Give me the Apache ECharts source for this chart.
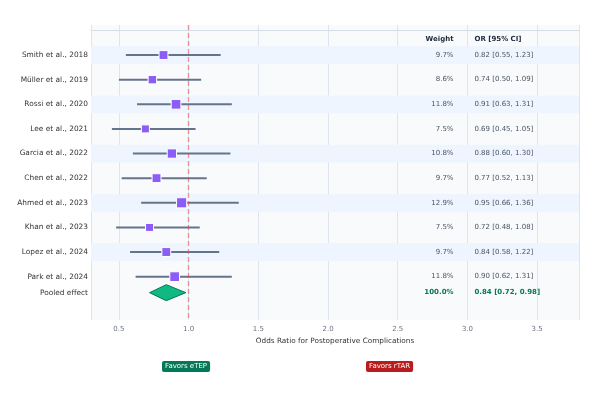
<!DOCTYPE html>
<html>
<head>
<meta charset="utf-8">
<script src="https://cdn.jsdelivr.net/npm/echarts@6/dist/echarts.min.js"></script>
<style>
html, body { margin: 0; padding: 0; background: #fff; }
#chart { width: 590px; height: 398px; }
</style>
</head>
<body>
<div id="chart"></div>
<script>
var studies = ['Smith et al., 2018', 'Müller et al., 2019', 'Rossi et al., 2020', 'Lee et al., 2021',
	'Garcia et al., 2022', 'Chen et al., 2022', 'Ahmed et al., 2023', 'Khan et al., 2023',
	'Lopez et al., 2024', 'Park et al., 2024'];
var orVals = [0.82, 0.74, 0.91, 0.69, 0.88, 0.77, 0.95, 0.72, 0.84, 0.90];
var ciLow = [0.55, 0.50, 0.63, 0.45, 0.60, 0.52, 0.66, 0.48, 0.58, 0.62];
var ciHigh = [1.23, 1.09, 1.31, 1.05, 1.30, 1.13, 1.36, 1.08, 1.22, 1.31];
var weights = [9.7, 8.6, 11.8, 7.5, 10.8, 9.7, 12.9, 7.5, 9.7, 11.8];
var pooledName = 'Pooled effect';
var pooledOr = 0.84, pooledLow = 0.72, pooledHigh = 0.98, pooledWeight = 100.0;
var headers = ['Weight', 'OR [95% CI]'];

var FONT = 'DejaVu Sans';
var headerY = 0.35, pooledY = 10.65;
var weightX = 2.9, orTextX = 3.05;

function ciText(o, l, h){
	return o.toFixed(2) + ' [' + l.toFixed(2) + ', ' + h.toFixed(2) + ']';
}

// rows of text: header, studies, pooled
var textRows = [{y: headerY, name: '', w: headers[0], ci: headers[1], kind: 'head'}];
for(var i = 0; i < studies.length; i++)
	textRows.push({y: i + 1, name: studies[i], w: weights[i].toFixed(1) + '%',
		ci: ciText(orVals[i], ciLow[i], ciHigh[i]), kind: 'study'});
textRows.push({y: pooledY, name: pooledName, w: pooledWeight.toFixed(1) + '%',
	ci: ciText(pooledOr, pooledLow, pooledHigh), kind: 'pooled'});

var bandData = [], ciData = [], squareData = [];
for(var i = 0; i < studies.length; i++){
	if(i % 2 == 0) bandData.push([1, i + 1]);
	ciData.push([ciLow[i], ciHigh[i], i + 1]);
	squareData.push([orVals[i], i + 1, weights[i]]);
}

var myChart = echarts.init(document.getElementById('chart'));

var option = {
	animation: false,
	textStyle: {fontFamily: FONT},
	grid: {
		left: 91, right: 11, top: 25, bottom: 78,
		show: true, backgroundColor: '#f8fafc', borderWidth: 0
	},
	xAxis: {
		type: 'value',
		min: 0.3,
		max: 3.8,
		splitNumber: 7,
		name: 'Odds Ratio for Postoperative Complications',
		nameLocation: 'middle',
		nameGap: 16,
		nameTextStyle: {fontSize: 7.3, color: '#333', fontFamily: FONT},
		axisLine: {show: true, lineStyle: {color: '#d5dde8', width: 1}},
		axisTick: {show: false},
		axisLabel: {
			fontSize: 7, color: '#6b7280', margin: 6, fontFamily: FONT,
			showMinLabel: false, showMaxLabel: false,
			formatter: function(v){ return v.toFixed(1); }
		},
		splitLine: {show: true, lineStyle: {color: '#dfe5ee', width: 1}}
	},
	yAxis: {
		type: 'value',
		inverse: true,
		min: -0.22,
		max: 11.76,
		show: false
	},
	series: [
		{
			name: 'bands',
			type: 'custom',
			silent: true,
			z: 1,
			data: bandData,
			renderItem: function(params, api){
				var cs = params.coordSys;
				var top = api.coord([1, api.value(1) - 0.36]);
				var bot = api.coord([1, api.value(1) + 0.36]);
				return {
					type: 'rect',
					shape: {x: cs.x, y: top[1], width: cs.width, height: bot[1] - top[1]},
					style: {fill: '#eef5ff'}
				};
			}
		},
		{
			name: 'ci',
			type: 'custom',
			z: 3,
			data: ciData,
			renderItem: function(params, api){
				var a = api.coord([api.value(0), api.value(2)]);
				var b = api.coord([api.value(1), api.value(2)]);
				return {
					type: 'line',
					shape: {x1: a[0], y1: a[1], x2: b[0], y2: b[1]},
					style: {stroke: '#64748b', lineWidth: 2}
				};
			}
		},
		{
			name: 'studies',
			type: 'scatter',
			z: 5,
			symbol: 'rect',
			symbolSize: function(v){ return 5 + v[2] * 0.4; },
			itemStyle: {color: '#8b5cf6', borderColor: '#ffffff', borderWidth: 1, opacity: 1},
			data: squareData,
			markLine: {
				silent: true,
				symbol: 'none',
				label: {show: false},
				lineStyle: {color: '#ef4444', type: [5, 3], width: 1.3, opacity: 0.55},
				data: [{xAxis: 1}]
			}
		},
		{
			name: 'pooled',
			type: 'custom',
			z: 6,
			data: [[pooledLow, pooledOr, pooledHigh, pooledY]],
			renderItem: function(params, api){
				var y = api.value(3);
				var l = api.coord([api.value(0), y]);
				var c = api.coord([api.value(1), y]);
				var r = api.coord([api.value(2), y]);
				var h = 8;
				return {
					type: 'polygon',
					shape: {points: [[l[0], l[1]], [c[0], c[1] - h], [r[0], r[1]], [c[0], c[1] + h]]},
					style: {fill: '#10b981', stroke: '#047857', lineWidth: 1}
				};
			}
		},
		{
			name: 'text',
			type: 'custom',
			z: 10,
			silent: true,
			data: textRows.map(function(r, k){ return [r.y, k]; }),
			renderItem: function(params, api){
				var row = textRows[params.dataIndex];
				var cs = params.coordSys;
				var pw = api.coord([weightX, api.value(0)]);
				var po = api.coord([orTextX, api.value(0)]);
				var bold = row.kind != 'study';
				var col = row.kind == 'head' ? '#1e293b' : (row.kind == 'pooled' ? '#047857' : '#4b5563');
				var fs = 7;
				return {
					type: 'group',
					children: [
						{type: 'text', x: cs.x - 3, y: pw[1], style: {text: row.name, align: 'right', verticalAlign: 'middle',
							fill: '#333333', fontSize: 7.4, fontFamily: FONT}},
						{type: 'text', x: pw[0], y: pw[1], style: {text: row.w, align: 'right', verticalAlign: 'middle',
							fill: col, fontSize: fs, fontWeight: bold ? 'bold' : 'normal', fontFamily: FONT}},
						{type: 'text', x: po[0], y: po[1], style: {text: row.ci, align: 'left', verticalAlign: 'middle',
							fill: col, fontSize: fs, fontWeight: bold ? 'bold' : 'normal', fontFamily: FONT}}
					]
				};
			}
		}
	],
	graphic: [
		{
			type: 'text', left: 162, top: 361,
			style: {text: 'Favors eTEP', fill: '#ffffff', fontSize: 7, fontFamily: FONT,
				backgroundColor: '#047857', padding: [2, 3, 2, 3], borderRadius: 2}
		},
		{
			type: 'text', left: 366, top: 361,
			style: {text: 'Favors rTAR', fill: '#ffffff', fontSize: 7, fontFamily: FONT,
				backgroundColor: '#b91c1c', padding: [2, 3, 2, 3], borderRadius: 2}
		}
	]
};

myChart.setOption(option);
</script>
</body>
</html>
